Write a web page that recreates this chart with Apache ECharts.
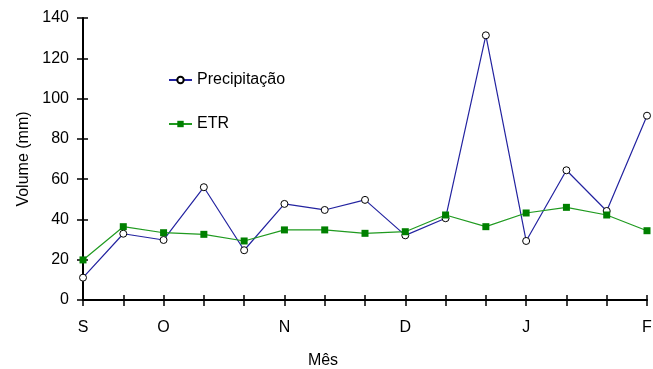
<!DOCTYPE html>
<html>
<head>
<meta charset="utf-8">
<script src="https://cdn.jsdelivr.net/npm/echarts@6/dist/echarts.min.js"></script>
<style>html,body{margin:0;padding:0;background:#fff}#c{width:653px;height:369px}</style>
</head>
<body>
<div id="c"></div>
<script>
var categories = ['S','','O','','','N','','','D','','','J','','','F'];
var precipitacao = [11.1, 32.9, 29.8, 56.0, 24.7, 47.7, 44.7, 49.7, 32.1, 40.6, 131.4, 29.3, 64.4, 44.2, 91.5];
var etr = [19.9, 36.4, 33.4, 32.6, 29.3, 34.8, 34.8, 33.1, 33.9, 42.2, 36.4, 43.2, 46.0, 42.2, 34.4];
var yTicks = [0, 20, 40, 60, 80, 100, 120, 140];

var font = 'Liberation Sans, Arial, sans-serif';
var chart = echarts.init(document.getElementById('c'), null, {renderer: 'canvas'});
var axisColor = '#000';
var gridBox = {left: 83, right: 6, top: 18, bottom: 69, containLabel: false, outerBoundsMode: 'none'};
chart.setOption({
  animation: false,
  backgroundColor: '#fff',
  textStyle: {fontFamily: font},
  grid: [Object.assign({}, gridBox), Object.assign({}, gridBox)],
  legend: {
    orient: 'vertical', left: 168, top: 72, itemGap: 28, padding: 0,
    itemWidth: 23, itemHeight: 8,
    textStyle: {fontFamily: font, fontSize: 16, color: '#000'},
    data: ['Precipitação', 'ETR']
  },
  xAxis: [{
    gridIndex: 0, type: 'category', data: categories, boundaryGap: false,
    name: 'Mês', nameLocation: 'middle', nameGap: 53,
    nameTextStyle: {fontFamily: font, fontSize: 16, color: '#000', padding: [0, 84, 0, 0]},
    axisLine: {lineStyle: {color: axisColor, width: 2}},
    axisTick: {show: true, length: 6, interval: 0, lineStyle: {color: axisColor, width: 1.5}},
    axisLabel: {interval: 0, margin: 20, fontFamily: font, fontSize: 16, color: '#000'},
    splitLine: {show: false}
  }, {
    gridIndex: 1, type: 'category', data: categories, boundaryGap: false, position: 'bottom',
    axisLine: {show: false},
    axisTick: {show: true, inside: true, length: 5, interval: 0, lineStyle: {color: axisColor, width: 1.5}},
    axisLabel: {show: false}, splitLine: {show: false}
  }],
  yAxis: [{
    gridIndex: 0, type: 'value', min: 0, max: 140, interval: 20,
    name: 'Volume (mm)', nameLocation: 'middle', nameGap: 51,
    nameTextStyle: {fontFamily: font, fontSize: 16, color: '#000'},
    axisLine: {show: true, lineStyle: {color: axisColor, width: 2}},
    axisTick: {show: true, length: 6, lineStyle: {color: axisColor, width: 1.5}},
    axisLabel: {margin: 14, fontFamily: font, fontSize: 16, color: '#000',
      formatter: function (v) { return yTicks.indexOf(v) >= 0 ? String(v) : ''; }},
    splitLine: {show: false}
  }, {
    gridIndex: 1, type: 'value', min: 0, max: 140, interval: 20, position: 'left',
    axisLine: {show: false},
    axisTick: {show: true, inside: true, length: 5, lineStyle: {color: axisColor, width: 1.5}},
    axisLabel: {show: false}, splitLine: {show: false}
  }],
  series: [{
    name: 'Precipitação', type: 'line', data: precipitacao, z: 3,
    xAxisIndex: 0, yAxisIndex: 0,
    symbol: 'circle', symbolSize: 7, showAllSymbol: true,
    lineStyle: {color: '#2323a0', width: 1.2},
    itemStyle: {color: '#fff', borderColor: '#000', borderWidth: 1}
  }, {
    name: 'ETR', type: 'line', data: etr, z: 4,
    xAxisIndex: 0, yAxisIndex: 0,
    symbol: 'rect', symbolSize: 7, showAllSymbol: true,
    lineStyle: {color: '#1f9a1f', width: 1.2},
    itemStyle: {color: '#008000', borderColor: '#008000', borderWidth: 0}
  }]
});
</script>
</body>
</html>
